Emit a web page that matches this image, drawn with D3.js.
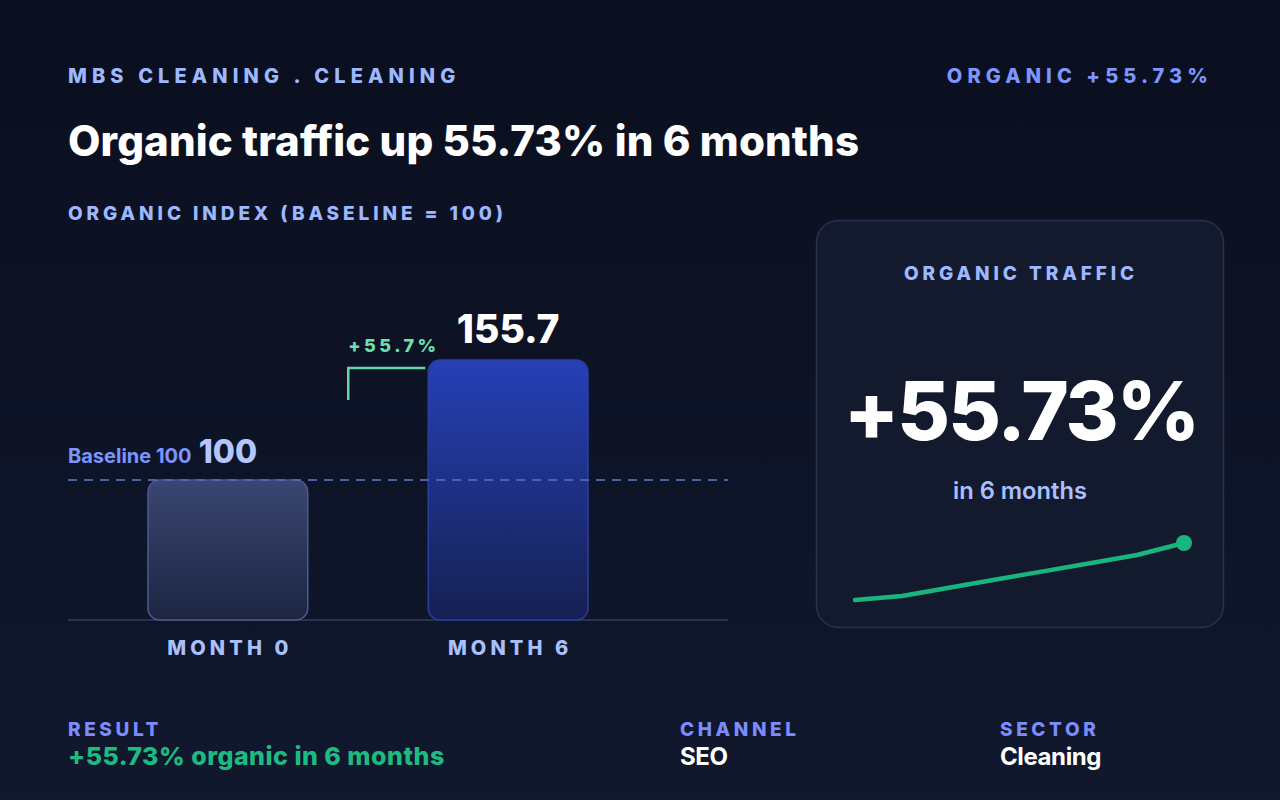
<!DOCTYPE html>
<html>
<head>
<meta charset="utf-8">
<script src="https://cdn.jsdelivr.net/npm/d3@7"></script>
<style>
  html, body { margin: 0; padding: 0; background: #0b1020; }
  svg { display: block; font-family: Inter, "Noto Sans", sans-serif; }
</style>
</head>
<body>
<svg id="chart" width="1280" height="800"></svg>
<script>
// bar data
var months = ["MONTH 0", "MONTH 6"];
var indexValues = [100, 155.73];
var valueLabels = ["100", "155.7"];
var baseline = 100;
var changeLabel = "+55.7%";

// sparkline (organic index, month by month)
var sparkValues = [100, 104, 112, 120, 128, 136, 144, 155.73];

// footer facts
var factLabels = ["RESULT", "CHANNEL", "SECTOR"];
var factValues = ["+55.73% organic in 6 months", "SEO", "Cleaning"];

var svg = d3.select("#chart");
var defs = svg.append("defs");

var bg = defs.append("linearGradient").attr("id", "bg")
    .attr("x1", 0).attr("y1", 0).attr("x2", 0).attr("y2", 1);
bg.append("stop").attr("offset", "0%").attr("stop-color", "#0a0f1f");
bg.append("stop").attr("offset", "100%").attr("stop-color", "#11182d");

var g0 = defs.append("linearGradient").attr("id", "bar0")
    .attr("x1", 0).attr("y1", 0).attr("x2", 0).attr("y2", 1);
g0.append("stop").attr("offset", "0%").attr("stop-color", "#3a4672");
g0.append("stop").attr("offset", "100%").attr("stop-color", "#1d2542");

var g1 = defs.append("linearGradient").attr("id", "bar1")
    .attr("x1", 0).attr("y1", 0).attr("x2", 0).attr("y2", 1);
g1.append("stop").attr("offset", "0%").attr("stop-color", "#2640b6");
g1.append("stop").attr("offset", "100%").attr("stop-color", "#152052");

svg.append("rect").attr("width", 1280).attr("height", 800).attr("fill", "url(#bg)");

// header
svg.append("text")
    .attr("x", 68).attr("y", 83)
    .attr("fill", "#9db8ff")
    .attr("font-size", 20).attr("font-weight", 800)
    .attr("letter-spacing", "5.1px")
    .text("MBS CLEANING . CLEANING");

svg.append("text")
    .attr("x", 1213).attr("y", 83)
    .attr("text-anchor", "end")
    .attr("fill", "#7d95ff")
    .attr("font-size", 20).attr("font-weight", 800)
    .attr("letter-spacing", "5.1px")
    .text("ORGANIC +55.73%");

svg.append("text")
    .attr("x", 68).attr("y", 156)
    .attr("fill", "#ffffff")
    .attr("font-size", 42).attr("font-weight", 800)
    .attr("letter-spacing", "0.1px")
    .text("Organic traffic up 55.73% in 6 months");

svg.append("text")
    .attr("x", 68).attr("y", 220)
    .attr("fill", "#9db8ff")
    .attr("font-size", 19).attr("font-weight", 800)
    .attr("letter-spacing", "3.9px")
    .text("ORGANIC INDEX (BASELINE = 100)");

// bar chart
var x = d3.scaleBand().domain(months).range([148, 588]).paddingInner(0.43);
var y = d3.scaleLinear().domain([35, 165]).range([620, 340]);

svg.append("line")
    .attr("x1", 68).attr("x2", 728)
    .attr("y1", y(35)).attr("y2", y(35))
    .attr("stroke", "#28324e").attr("stroke-width", 2);

var bars = svg.append("g");
bars.selectAll("rect")
    .data(indexValues)
    .enter().append("rect")
    .attr("x", (d, i) => x(months[i]))
    .attr("y", d => y(d))
    .attr("width", x.bandwidth())
    .attr("height", d => y(35) - y(d))
    .attr("rx", 12)
    .attr("fill", (d, i) => "url(#bar" + i + ")")
    .attr("stroke", (d, i) => i == 0 ? "#4b5b92" : "#2b3fa0")
    .attr("stroke-width", 1.5);

// baseline dashed line
svg.append("line")
    .attr("x1", 68).attr("x2", 728)
    .attr("y1", y(baseline)).attr("y2", y(baseline))
    .attr("stroke", "#5468b0").attr("stroke-opacity", 0.9)
    .attr("stroke-width", 2).attr("stroke-dasharray", "9,7");

svg.append("text")
    .attr("x", 68).attr("y", y(baseline) - 17)
    .attr("fill", "#7d95ff")
    .attr("font-size", 20).attr("font-weight", 700)
    .text("Baseline " + baseline);

// value labels
svg.selectAll(".val")
    .data(indexValues)
    .enter().append("text")
    .attr("class", "val")
    .attr("x", (d, i) => x(months[i]) + x.bandwidth() / 2)
    .attr("y", d => y(d) - 17)
    .attr("text-anchor", "middle")
    .attr("fill", (d, i) => i == 0 ? "#b3c6ff" : "#ffffff")
    .attr("font-size", (d, i) => i == 0 ? 32 : 39)
    .attr("font-weight", 800)
    .text((d, i) => valueLabels[i]);

// month labels
svg.selectAll(".mon")
    .data(months)
    .enter().append("text")
    .attr("class", "mon")
    .attr("x", d => x(d) + x.bandwidth() / 2 + 2)
    .attr("y", 655)
    .attr("text-anchor", "middle")
    .attr("fill", "#a9c0ff")
    .attr("font-size", 20).attr("font-weight", 800)
    .attr("letter-spacing", "4.1px")
    .text(d => d);

// change bracket
var bx = x(months[1]) - 80;
var by = y(indexValues[1]) + 8;
svg.append("path")
    .attr("d", "M" + bx + "," + (by + 32) + "V" + by + "H" + (x(months[1]) - 3))
    .attr("fill", "none")
    .attr("stroke", "#66d6a6").attr("stroke-width", 2.5);

svg.append("text")
    .attr("x", bx).attr("y", by - 16)
    .attr("fill", "#6ee0ad")
    .attr("font-size", 18).attr("font-weight", 800)
    .attr("letter-spacing", "3.5px")
    .text(changeLabel);

// right card
svg.append("rect")
    .attr("x", 816.5).attr("y", 220.5)
    .attr("width", 407).attr("height", 407)
    .attr("rx", 22)
    .attr("fill", "#141a2e")
    .attr("stroke", "#28314d").attr("stroke-width", 1.5);

svg.append("text")
    .attr("x", 1021).attr("y", 280)
    .attr("text-anchor", "middle")
    .attr("fill", "#9db8ff")
    .attr("font-size", 19).attr("font-weight", 800)
    .attr("letter-spacing", "3.9px")
    .text("ORGANIC TRAFFIC");

svg.append("text")
    .attr("x", 1021).attr("y", 440)
    .attr("text-anchor", "middle")
    .attr("fill", "#ffffff")
    .attr("font-size", 81).attr("font-weight", 800)
    .attr("letter-spacing", "-2px")
    .text("+55.73%");

svg.append("text")
    .attr("x", 1020).attr("y", 499)
    .attr("text-anchor", "middle")
    .attr("fill", "#a9c0ff")
    .attr("font-size", 23.7).attr("font-weight", 600)
    .text("in 6 months");

var sx = d3.scaleLinear().domain([0, sparkValues.length - 1]).range([855, 1184]);
var sy = d3.scaleLinear().domain([100, 155.73]).range([600, 543]);

var line = d3.line()
    .x((d, i) => sx(i))
    .y(d => sy(d));

svg.append("path")
    .datum(sparkValues)
    .attr("d", line)
    .attr("fill", "none")
    .attr("stroke", "#19b57c").attr("stroke-width", 4.5)
    .attr("stroke-linecap", "round").attr("stroke-linejoin", "round");

svg.append("circle")
    .attr("cx", sx(sparkValues.length - 1))
    .attr("cy", sy(sparkValues[sparkValues.length - 1]))
    .attr("r", 8)
    .attr("fill", "#19b57c");

// footer facts
var factX = [68, 680, 1000];
var facts = svg.selectAll(".fact")
    .data(factLabels)
    .enter().append("g")
    .attr("class", "fact")
    .attr("transform", (d, i) => "translate(" + factX[i] + ",0)");

facts.append("text")
    .attr("y", 736)
    .attr("fill", "#7b8cff")
    .attr("font-size", 19).attr("font-weight", 800)
    .attr("letter-spacing", "3.6px")
    .text(d => d);

facts.append("text")
    .attr("y", 765)
    .attr("fill", (d, i) => i == 0 ? "#1dbb82" : "#ffffff")
    .attr("font-size", (d, i) => i == 0 ? 25 : 24)
    .attr("font-weight", (d, i) => i == 0 ? 800 : 700)
    .attr("letter-spacing", (d, i) => i == 0 ? "0.5px" : "-0.4px")
    .text((d, i) => factValues[i]);
</script>
</body>
</html>
